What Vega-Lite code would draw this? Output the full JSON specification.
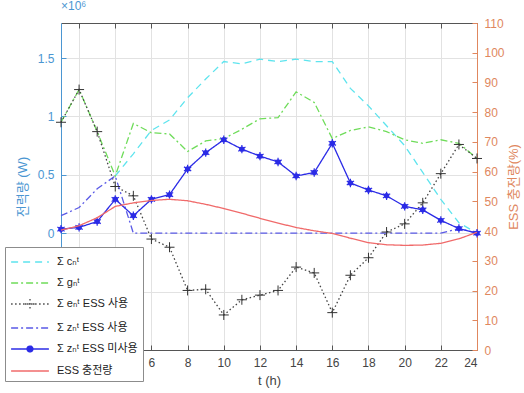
{
  "$schema": "https://vega.github.io/schema/vega-lite/v6.json",
  "width": 416,
  "height": 327,
  "autosize": "none",
  "padding": {"left": 61, "top": 23, "right": 47, "bottom": 43},
  "config": {
    "font": "Liberation Sans, DejaVu Sans, Noto Sans CJK KR, sans-serif",
    "view": {"stroke": null},
    "axis": {"gridColor": "#e2e2e2", "gridWidth": 1, "labelFontSize": 12, "titleFontSize": 13, "titleFontWeight": "normal", "tickSize": -5, "labelPadding": 12}
  },
  "title": {"text": "×10⁶", "anchor": "start", "frame": "group", "fontSize": 12, "fontWeight": "normal", "color": "#4b96d2", "offset": 4},
  "datasets": {
    "power": [
      {"t": 4, "series": "Σ cₙᵗ", "v": 0.49}, {"t": 5, "series": "Σ cₙᵗ", "v": 0.68}, {"t": 6, "series": "Σ cₙᵗ", "v": 0.88}, {"t": 7, "series": "Σ cₙᵗ", "v": 0.97}, {"t": 8, "series": "Σ cₙᵗ", "v": 1.16}, {"t": 9, "series": "Σ cₙᵗ", "v": 1.32}, {"t": 10, "series": "Σ cₙᵗ", "v": 1.47}, {"t": 11, "series": "Σ cₙᵗ", "v": 1.45}, {"t": 12, "series": "Σ cₙᵗ", "v": 1.49}, {"t": 13, "series": "Σ cₙᵗ", "v": 1.47}, {"t": 14, "series": "Σ cₙᵗ", "v": 1.49}, {"t": 15, "series": "Σ cₙᵗ", "v": 1.47}, {"t": 16, "series": "Σ cₙᵗ", "v": 1.47}, {"t": 17, "series": "Σ cₙᵗ", "v": 1.24}, {"t": 18, "series": "Σ cₙᵗ", "v": 1.09}, {"t": 19, "series": "Σ cₙᵗ", "v": 0.92}, {"t": 20, "series": "Σ cₙᵗ", "v": 0.75}, {"t": 21, "series": "Σ cₙᵗ", "v": 0.52}, {"t": 22, "series": "Σ cₙᵗ", "v": 0.29}, {"t": 23, "series": "Σ cₙᵗ", "v": 0.09}, {"t": 24, "series": "Σ cₙᵗ", "v": 0.0},
      {"t": 1, "series": "Σ gₙᵗ", "v": 0.95}, {"t": 2, "series": "Σ gₙᵗ", "v": 1.23}, {"t": 3, "series": "Σ gₙᵗ", "v": 0.87}, {"t": 4, "series": "Σ gₙᵗ", "v": 0.49}, {"t": 5, "series": "Σ gₙᵗ", "v": 0.94}, {"t": 6, "series": "Σ gₙᵗ", "v": 0.86}, {"t": 7, "series": "Σ gₙᵗ", "v": 0.85}, {"t": 8, "series": "Σ gₙᵗ", "v": 0.70}, {"t": 9, "series": "Σ gₙᵗ", "v": 0.79}, {"t": 10, "series": "Σ gₙᵗ", "v": 0.81}, {"t": 11, "series": "Σ gₙᵗ", "v": 0.89}, {"t": 12, "series": "Σ gₙᵗ", "v": 0.98}, {"t": 13, "series": "Σ gₙᵗ", "v": 0.99}, {"t": 14, "series": "Σ gₙᵗ", "v": 1.21}, {"t": 15, "series": "Σ gₙᵗ", "v": 1.12}, {"t": 16, "series": "Σ gₙᵗ", "v": 0.81}, {"t": 17, "series": "Σ gₙᵗ", "v": 0.88}, {"t": 18, "series": "Σ gₙᵗ", "v": 0.91}, {"t": 19, "series": "Σ gₙᵗ", "v": 0.87}, {"t": 20, "series": "Σ gₙᵗ", "v": 0.80}, {"t": 21, "series": "Σ gₙᵗ", "v": 0.77}, {"t": 22, "series": "Σ gₙᵗ", "v": 0.80}, {"t": 23, "series": "Σ gₙᵗ", "v": 0.77}, {"t": 24, "series": "Σ gₙᵗ", "v": 0.64},
      {"t": 1, "series": "Σ eₙᵗ ESS 사용", "v": 0.95}, {"t": 2, "series": "Σ eₙᵗ ESS 사용", "v": 1.23}, {"t": 3, "series": "Σ eₙᵗ ESS 사용", "v": 0.87}, {"t": 4, "series": "Σ eₙᵗ ESS 사용", "v": 0.40}, {"t": 5, "series": "Σ eₙᵗ ESS 사용", "v": 0.32}, {"t": 6, "series": "Σ eₙᵗ ESS 사용", "v": -0.05}, {"t": 7, "series": "Σ eₙᵗ ESS 사용", "v": -0.12}, {"t": 8, "series": "Σ eₙᵗ ESS 사용", "v": -0.49}, {"t": 9, "series": "Σ eₙᵗ ESS 사용", "v": -0.48}, {"t": 10, "series": "Σ eₙᵗ ESS 사용", "v": -0.70}, {"t": 11, "series": "Σ eₙᵗ ESS 사용", "v": -0.57}, {"t": 12, "series": "Σ eₙᵗ ESS 사용", "v": -0.53}, {"t": 13, "series": "Σ eₙᵗ ESS 사용", "v": -0.49}, {"t": 14, "series": "Σ eₙᵗ ESS 사용", "v": -0.29}, {"t": 15, "series": "Σ eₙᵗ ESS 사용", "v": -0.34}, {"t": 16, "series": "Σ eₙᵗ ESS 사용", "v": -0.68}, {"t": 17, "series": "Σ eₙᵗ ESS 사용", "v": -0.36}, {"t": 18, "series": "Σ eₙᵗ ESS 사용", "v": -0.21}, {"t": 19, "series": "Σ eₙᵗ ESS 사용", "v": 0.01}, {"t": 20, "series": "Σ eₙᵗ ESS 사용", "v": 0.08}, {"t": 21, "series": "Σ eₙᵗ ESS 사용", "v": 0.26}, {"t": 22, "series": "Σ eₙᵗ ESS 사용", "v": 0.51}, {"t": 23, "series": "Σ eₙᵗ ESS 사용", "v": 0.76}, {"t": 24, "series": "Σ eₙᵗ ESS 사용", "v": 0.64},
      {"t": 1, "series": "Σ zₙᵗ ESS 사용", "v": 0.15}, {"t": 2, "series": "Σ zₙᵗ ESS 사용", "v": 0.22}, {"t": 3, "series": "Σ zₙᵗ ESS 사용", "v": 0.38}, {"t": 4, "series": "Σ zₙᵗ ESS 사용", "v": 0.49}, {"t": 5, "series": "Σ zₙᵗ ESS 사용", "v": 0.0}, {"t": 6, "series": "Σ zₙᵗ ESS 사용", "v": 0.0}, {"t": 7, "series": "Σ zₙᵗ ESS 사용", "v": 0.0}, {"t": 8, "series": "Σ zₙᵗ ESS 사용", "v": 0.0}, {"t": 9, "series": "Σ zₙᵗ ESS 사용", "v": 0.0}, {"t": 10, "series": "Σ zₙᵗ ESS 사용", "v": 0.0}, {"t": 11, "series": "Σ zₙᵗ ESS 사용", "v": 0.0}, {"t": 12, "series": "Σ zₙᵗ ESS 사용", "v": 0.0}, {"t": 13, "series": "Σ zₙᵗ ESS 사용", "v": 0.0}, {"t": 14, "series": "Σ zₙᵗ ESS 사용", "v": 0.0}, {"t": 15, "series": "Σ zₙᵗ ESS 사용", "v": 0.0}, {"t": 16, "series": "Σ zₙᵗ ESS 사용", "v": 0.0}, {"t": 17, "series": "Σ zₙᵗ ESS 사용", "v": 0.0}, {"t": 18, "series": "Σ zₙᵗ ESS 사용", "v": 0.0}, {"t": 19, "series": "Σ zₙᵗ ESS 사용", "v": 0.0}, {"t": 20, "series": "Σ zₙᵗ ESS 사용", "v": 0.0}, {"t": 21, "series": "Σ zₙᵗ ESS 사용", "v": 0.0}, {"t": 22, "series": "Σ zₙᵗ ESS 사용", "v": 0.0}, {"t": 23, "series": "Σ zₙᵗ ESS 사용", "v": 0.04}, {"t": 24, "series": "Σ zₙᵗ ESS 사용", "v": 0.0},
      {"t": 1, "series": "Σ zₙᵗ ESS 미사용", "v": 0.035}, {"t": 2, "series": "Σ zₙᵗ ESS 미사용", "v": 0.05}, {"t": 3, "series": "Σ zₙᵗ ESS 미사용", "v": 0.10}, {"t": 4, "series": "Σ zₙᵗ ESS 미사용", "v": 0.29}, {"t": 5, "series": "Σ zₙᵗ ESS 미사용", "v": 0.15}, {"t": 6, "series": "Σ zₙᵗ ESS 미사용", "v": 0.29}, {"t": 7, "series": "Σ zₙᵗ ESS 미사용", "v": 0.33}, {"t": 8, "series": "Σ zₙᵗ ESS 미사용", "v": 0.55}, {"t": 9, "series": "Σ zₙᵗ ESS 미사용", "v": 0.69}, {"t": 10, "series": "Σ zₙᵗ ESS 미사용", "v": 0.80}, {"t": 11, "series": "Σ zₙᵗ ESS 미사용", "v": 0.72}, {"t": 12, "series": "Σ zₙᵗ ESS 미사용", "v": 0.66}, {"t": 13, "series": "Σ zₙᵗ ESS 미사용", "v": 0.61}, {"t": 14, "series": "Σ zₙᵗ ESS 미사용", "v": 0.49}, {"t": 15, "series": "Σ zₙᵗ ESS 미사용", "v": 0.52}, {"t": 16, "series": "Σ zₙᵗ ESS 미사용", "v": 0.77}, {"t": 17, "series": "Σ zₙᵗ ESS 미사용", "v": 0.43}, {"t": 18, "series": "Σ zₙᵗ ESS 미사용", "v": 0.37}, {"t": 19, "series": "Σ zₙᵗ ESS 미사용", "v": 0.32}, {"t": 20, "series": "Σ zₙᵗ ESS 미사용", "v": 0.23}, {"t": 21, "series": "Σ zₙᵗ ESS 미사용", "v": 0.20}, {"t": 22, "series": "Σ zₙᵗ ESS 미사용", "v": 0.11}, {"t": 23, "series": "Σ zₙᵗ ESS 미사용", "v": 0.04}, {"t": 24, "series": "Σ zₙᵗ ESS 미사용", "v": 0.0}
    ],
    "soc": [
      {"t": 1, "series": "ESS 충전량", "p": 40.3}, {"t": 2, "series": "ESS 충전량", "p": 41.8}, {"t": 3, "series": "ESS 충전량", "p": 44.5}, {"t": 4, "series": "ESS 충전량", "p": 48.3}, {"t": 5, "series": "ESS 충전량", "p": 49.5}, {"t": 6, "series": "ESS 충전량", "p": 50.3}, {"t": 7, "series": "ESS 충전량", "p": 50.7}, {"t": 8, "series": "ESS 충전량", "p": 50.2}, {"t": 9, "series": "ESS 충전량", "p": 49.0}, {"t": 10, "series": "ESS 충전량", "p": 47.6}, {"t": 11, "series": "ESS 충전량", "p": 46.0}, {"t": 12, "series": "ESS 충전량", "p": 44.3}, {"t": 13, "series": "ESS 충전량", "p": 42.7}, {"t": 14, "series": "ESS 충전량", "p": 41.2}, {"t": 15, "series": "ESS 충전량", "p": 40.1}, {"t": 16, "series": "ESS 충전량", "p": 39.2}, {"t": 17, "series": "ESS 충전량", "p": 37.6}, {"t": 18, "series": "ESS 충전량", "p": 36.1}, {"t": 19, "series": "ESS 충전량", "p": 35.4}, {"t": 20, "series": "ESS 충전량", "p": 35.2}, {"t": 21, "series": "ESS 충전량", "p": 35.3}, {"t": 22, "series": "ESS 충전량", "p": 35.9}, {"t": 23, "series": "ESS 충전량", "p": 37.4}, {"t": 24, "series": "ESS 충전량", "p": 39.6}
    ]
  },
  "layer": [
    {
      "data": {"name": "power"},
      "encoding": {
        "x": {"field": "t", "type": "quantitative", "scale": {"domain": [1, 24], "nice": false, "zero": false},
          "axis": {"orient": "bottom", "values": [2, 4, 6, 8, 10, 12, 14, 16, 18, 20, 22, 24], "labelExpr": "datum.value < 5 ? '' : datum.label", "title": "t (h)", "grid": true, "domainColor": "#555", "tickColor": "#555", "labelColor": "#444", "titleColor": "#444", "titlePadding": 6}},
        "y": {"field": "v", "type": "quantitative", "scale": {"domain": [-1, 1.8], "nice": false, "zero": false},
          "axis": {"orient": "left", "values": [-1, -0.5, 0, 0.5, 1, 1.5], "format": "~g", "labelExpr": "datum.value < 0 ? '' : datum.label", "title": "전력량 (W)", "grid": true, "domainColor": "#4b96d2", "tickColor": "#4b96d2", "labelColor": "#4b96d2", "titleColor": "#4b96d2", "titlePadding": 8}}
      },
      "layer": [
        {
          "mark": {"type": "line", "strokeWidth": 1.3},
          "encoding": {
            "color": {"field": "series", "type": "nominal", "sort": null,
              "scale": {"domain": ["Σ cₙᵗ", "Σ gₙᵗ", "Σ eₙᵗ ESS 사용", "Σ zₙᵗ ESS 사용", "Σ zₙᵗ ESS 미사용", "ESS 충전량"], "range": ["#5ee4ee", "#6fdc5a", "#444444", "#5a5ae6", "#2b2be6", "#f06a6a"]},
              "legend": {"title": null, "orient": "none", "legendX": -56, "legendY": 224, "fillColor": "white", "strokeColor": "#8c8c8c", "padding": 5, "rowPadding": 6, "symbolType": "M-2.1,0H2.1", "symbolSize": 324, "symbolOffset": 10, "symbolStrokeWidth": 1.3, "labelFontSize": 11, "labelColor": "#222", "labelOffset": 17,
                "encode": {"symbols": {"update": {
                  "shape": {"signal": "datum.value === 'Σ eₙᵗ ESS 사용' ? 'M-2.1,0H2.1M0,-0.55V0.55M-0.55,0H0.55' : datum.value === 'Σ zₙᵗ ESS 미사용' ? 'M-2.1,0H2.1M0,-0.33A0.33,0.33 0 1 1 0,0.33A0.33,0.33 0 1 1 0,-0.33' : 'M-2.1,0H2.1'"},
                  "fill": {"signal": "datum.value === 'Σ zₙᵗ ESS 미사용' ? '#2b2be6' : 'transparent'"}}}}}},
            "strokeDash": {"field": "series", "type": "nominal", "sort": null,
              "scale": {"domain": ["Σ cₙᵗ", "Σ gₙᵗ", "Σ eₙᵗ ESS 사용", "Σ zₙᵗ ESS 사용", "Σ zₙᵗ ESS 미사용", "ESS 충전량"], "range": [[7, 5], [7, 3, 2, 3], [1.5, 2.5], [7, 3, 2, 3], [1, 0], [1, 0]]},
              "legend": {"title": null, "orient": "none", "legendX": -56, "legendY": 224}}
          }
        },
        {
          "transform": [{"filter": "datum.series === 'Σ eₙᵗ ESS 사용'"}],
          "mark": {"type": "point", "shape": "M-1,0H1M0,-1V1", "size": 100, "stroke": "#333333", "strokeWidth": 1, "filled": false, "opacity": 1}
        },
        {
          "transform": [{"filter": "datum.series === 'Σ zₙᵗ ESS 미사용'"}],
          "mark": {"type": "point", "shape": "circle", "size": 30, "color": "#2b2be6", "filled": true, "opacity": 1}
        },
        {
          "transform": [{"filter": "datum.series === 'Σ zₙᵗ ESS 미사용'"}],
          "mark": {"type": "point", "shape": "M0,-1V1M-0.87,-0.5L0.87,0.5M-0.87,0.5L0.87,-0.5", "size": 70, "stroke": "#2b2be6", "strokeWidth": 1.2, "filled": false, "opacity": 1}
        }
      ]
    },
    {
      "data": {"name": "soc"},
      "mark": {"type": "line", "strokeWidth": 1.3},
      "encoding": {
        "x": {"field": "t", "type": "quantitative", "scale": {"domain": [1, 24], "nice": false, "zero": false},
          "axis": {"orient": "top", "values": [2, 4, 6, 8, 10, 12, 14, 16, 18, 20, 22, 24], "labels": false, "title": null, "grid": false, "domainColor": "#555", "tickColor": "#555"}},
        "y": {"field": "p", "type": "quantitative", "scale": {"domain": [0, 110], "nice": false, "zero": false},
          "axis": {"orient": "right", "values": [0, 10, 20, 30, 40, 50, 60, 70, 80, 90, 100, 110], "format": "d", "title": "ESS 충전량(%)", "titleAngle": 270, "titleBaseline": "top", "grid": false, "domainColor": "#e0875e", "tickColor": "#e0875e", "labelColor": "#e0875e", "titleColor": "#e0875e", "titlePadding": 3}},
        "color": {"field": "series", "type": "nominal", "sort": null},
        "strokeDash": {"field": "series", "type": "nominal", "sort": null}
      }
    }
  ],
  "resolve": {"scale": {"y": "independent"}, "axis": {"x": "independent"}}
}
